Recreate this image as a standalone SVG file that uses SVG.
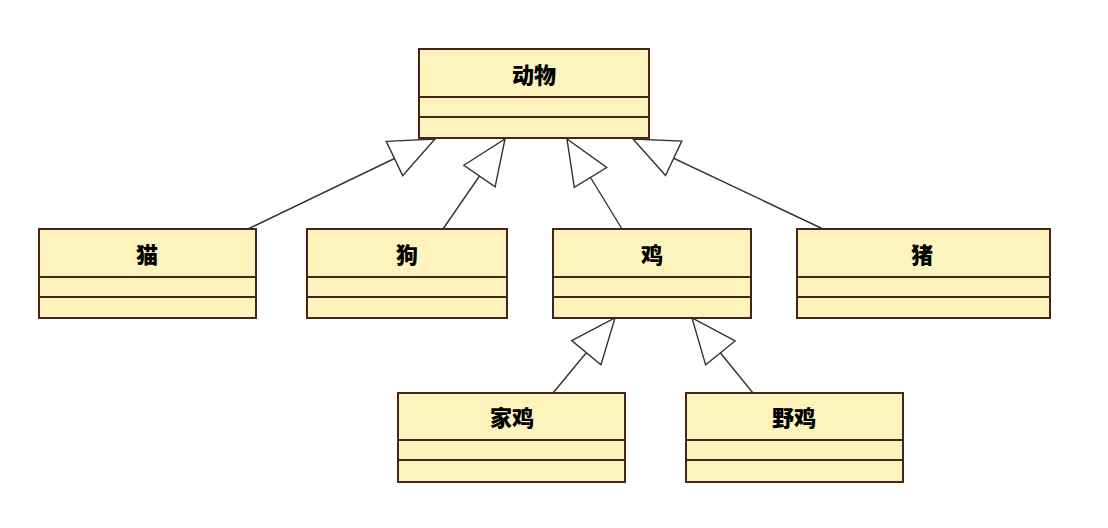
<svg xmlns="http://www.w3.org/2000/svg" width="1108" height="528" viewBox="0 0 1108 528">
<style>
.box{fill:#fcf3bd;stroke:#4a2418;stroke-width:2}
.div{stroke:#4a2418;stroke-width:2}
.lbl{font-family:"Noto Sans CJK SC","Noto Sans CJK JP",sans-serif;font-size:22px;font-weight:900;fill:#000;text-anchor:middle;dominant-baseline:central}
.conn{stroke:#333;stroke-width:1.4;fill:none;marker-end:url(#gen)}
</style>
<defs>
<marker id="gen" markerUnits="userSpaceOnUse" viewBox="-2 -22 49 44" markerWidth="49" markerHeight="44" refX="45" refY="0" orient="auto">
<path d="M0,-19 L45,0 L0,19 Z" fill="#fff" stroke="#333" stroke-width="1.4"/>
</marker>
</defs>
<rect width="1108" height="528" fill="#fff"/>
<g id="connectors">
<line class="conn" x1="248" y1="229" x2="435" y2="139"/>
<line class="conn" x1="443" y1="229" x2="505" y2="139"/>
<line class="conn" x1="622" y1="229" x2="567" y2="139"/>
<line class="conn" x1="823" y1="229" x2="633" y2="139"/>
<line class="conn" x1="553" y1="393" x2="615" y2="318"/>
<line class="conn" x1="753" y1="393" x2="692" y2="318"/>
</g>
<g id="animal">
<rect class="box" x="419" y="49" width="230" height="89"/>
<line class="div" x1="419" y1="97" x2="649" y2="97"/>
<line class="div" x1="419" y1="117" x2="649" y2="117"/>
<text class="lbl" x="534" y="73">动物</text>
</g>
<g id="cat">
<rect class="box" x="39" y="229" width="217" height="89"/>
<line class="div" x1="39" y1="277" x2="256" y2="277"/>
<line class="div" x1="39" y1="297" x2="256" y2="297"/>
<text class="lbl" x="147" y="253">猫</text>
</g>
<g id="dog">
<rect class="box" x="307" y="229" width="200" height="89"/>
<line class="div" x1="307" y1="277" x2="507" y2="277"/>
<line class="div" x1="307" y1="297" x2="507" y2="297"/>
<text class="lbl" x="407" y="253">狗</text>
</g>
<g id="chicken">
<rect class="box" x="553" y="229" width="198" height="89"/>
<line class="div" x1="553" y1="277" x2="751" y2="277"/>
<line class="div" x1="553" y1="297" x2="751" y2="297"/>
<text class="lbl" x="652" y="253">鸡</text>
</g>
<g id="pig">
<rect class="box" x="797" y="229" width="253" height="89"/>
<line class="div" x1="797" y1="277" x2="1050" y2="277"/>
<line class="div" x1="797" y1="297" x2="1050" y2="297"/>
<text class="lbl" x="922" y="253">猪</text>
</g>
<g id="domestic-chicken">
<rect class="box" x="398" y="393" width="227" height="89"/>
<line class="div" x1="398" y1="440" x2="625" y2="440"/>
<line class="div" x1="398" y1="460" x2="625" y2="460"/>
<text class="lbl" x="512" y="416">家鸡</text>
</g>
<g id="wild-chicken">
<rect class="box" x="686" y="393" width="217" height="89"/>
<line class="div" x1="686" y1="440" x2="903" y2="440"/>
<line class="div" x1="686" y1="460" x2="903" y2="460"/>
<text class="lbl" x="794" y="416">野鸡</text>
</g>
</svg>
